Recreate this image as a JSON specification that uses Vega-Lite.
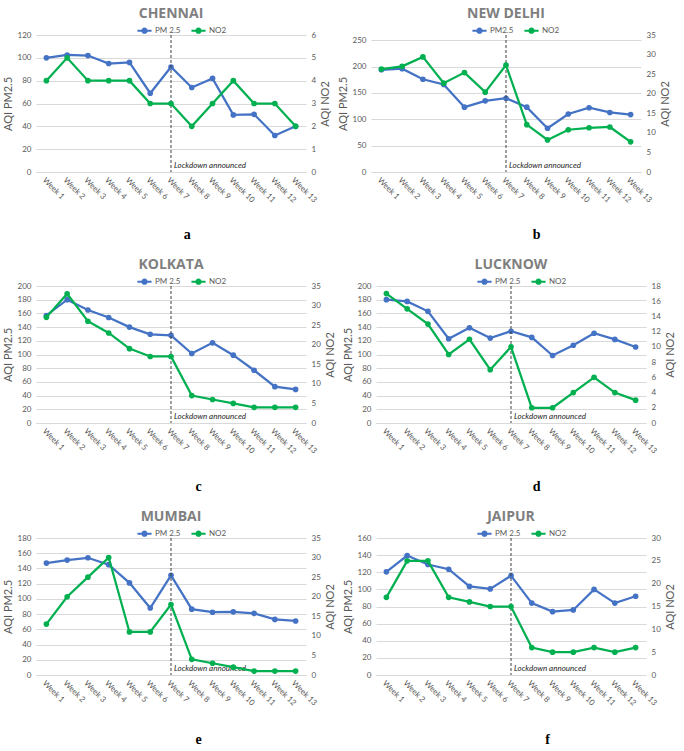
{
"$schema": "https://vega.github.io/schema/vega-lite/v6.json",
"padding": {"left": 2, "right": 2, "top": 7, "bottom": 0},
"background": "white",
"data": {"values": [
{"city":"Chennai","w":1,"pm":100,"no2":4},{"city":"Chennai","w":2,"pm":102.5,"no2":5},{"city":"Chennai","w":3,"pm":102,"no2":4},{"city":"Chennai","w":4,"pm":95,"no2":4},{"city":"Chennai","w":5,"pm":96,"no2":4},{"city":"Chennai","w":6,"pm":69,"no2":3},{"city":"Chennai","w":7,"pm":92,"no2":3},{"city":"Chennai","w":8,"pm":74,"no2":2},{"city":"Chennai","w":9,"pm":82,"no2":3},{"city":"Chennai","w":10,"pm":50,"no2":4},{"city":"Chennai","w":11,"pm":50.5,"no2":3},{"city":"Chennai","w":12,"pm":32,"no2":3},{"city":"Chennai","w":13,"pm":40,"no2":2},
{"city":"New Delhi","w":1,"pm":194,"no2":26.3},{"city":"New Delhi","w":2,"pm":196,"no2":27},{"city":"New Delhi","w":3,"pm":176,"no2":29.4},{"city":"New Delhi","w":4,"pm":166,"no2":22.7},{"city":"New Delhi","w":5,"pm":123,"no2":25.4},{"city":"New Delhi","w":6,"pm":135,"no2":20.4},{"city":"New Delhi","w":7,"pm":140,"no2":27.3},{"city":"New Delhi","w":8,"pm":123,"no2":12.1},{"city":"New Delhi","w":9,"pm":83,"no2":8.2},{"city":"New Delhi","w":10,"pm":110,"no2":10.8},{"city":"New Delhi","w":11,"pm":122,"no2":11.3},{"city":"New Delhi","w":12,"pm":113,"no2":11.5},{"city":"New Delhi","w":13,"pm":109,"no2":7.7},
{"city":"Kolkata","w":1,"pm":157,"no2":27},{"city":"Kolkata","w":2,"pm":180,"no2":33},{"city":"Kolkata","w":3,"pm":165,"no2":26},{"city":"Kolkata","w":4,"pm":154,"no2":23},{"city":"Kolkata","w":5,"pm":140,"no2":19},{"city":"Kolkata","w":6,"pm":129.5,"no2":17},{"city":"Kolkata","w":7,"pm":128,"no2":17},{"city":"Kolkata","w":8,"pm":101.5,"no2":7},{"city":"Kolkata","w":9,"pm":117,"no2":6},{"city":"Kolkata","w":10,"pm":99,"no2":5},{"city":"Kolkata","w":11,"pm":77,"no2":4},{"city":"Kolkata","w":12,"pm":53,"no2":4},{"city":"Kolkata","w":13,"pm":49,"no2":4},
{"city":"Lucknow","w":1,"pm":180,"no2":17},{"city":"Lucknow","w":2,"pm":177.5,"no2":15},{"city":"Lucknow","w":3,"pm":163,"no2":13},{"city":"Lucknow","w":4,"pm":123,"no2":9},{"city":"Lucknow","w":5,"pm":139,"no2":11},{"city":"Lucknow","w":6,"pm":124,"no2":7},{"city":"Lucknow","w":7,"pm":134,"no2":10},{"city":"Lucknow","w":8,"pm":125,"no2":2},{"city":"Lucknow","w":9,"pm":98.5,"no2":2},{"city":"Lucknow","w":10,"pm":113.5,"no2":4},{"city":"Lucknow","w":11,"pm":131,"no2":6},{"city":"Lucknow","w":12,"pm":122,"no2":4},{"city":"Lucknow","w":13,"pm":111,"no2":3},
{"city":"Mumbai","w":1,"pm":147,"no2":13},{"city":"Mumbai","w":2,"pm":151,"no2":20},{"city":"Mumbai","w":3,"pm":154,"no2":25},{"city":"Mumbai","w":4,"pm":145,"no2":30},{"city":"Mumbai","w":5,"pm":121,"no2":11},{"city":"Mumbai","w":6,"pm":88,"no2":11},{"city":"Mumbai","w":7,"pm":131,"no2":18},{"city":"Mumbai","w":8,"pm":86.5,"no2":4},{"city":"Mumbai","w":9,"pm":82.5,"no2":3},{"city":"Mumbai","w":10,"pm":83,"no2":2},{"city":"Mumbai","w":11,"pm":81,"no2":1},{"city":"Mumbai","w":12,"pm":73,"no2":1},{"city":"Mumbai","w":13,"pm":71,"no2":1},
{"city":"Jaipur","w":1,"pm":120.5,"no2":17},{"city":"Jaipur","w":2,"pm":139.5,"no2":25},{"city":"Jaipur","w":3,"pm":129,"no2":25},{"city":"Jaipur","w":4,"pm":123.5,"no2":17},{"city":"Jaipur","w":5,"pm":103.5,"no2":16},{"city":"Jaipur","w":6,"pm":100.5,"no2":15},{"city":"Jaipur","w":7,"pm":116,"no2":15},{"city":"Jaipur","w":8,"pm":84,"no2":6},{"city":"Jaipur","w":9,"pm":74,"no2":5},{"city":"Jaipur","w":10,"pm":76,"no2":5},{"city":"Jaipur","w":11,"pm":100,"no2":6},{"city":"Jaipur","w":12,"pm":84,"no2":5},{"city":"Jaipur","w":13,"pm":92,"no2":6}
]},
"spacing": 15,
"resolve": {"scale": {"color": "independent"}, "legend": {"color": "independent"}},
"vconcat": [
{"hconcat": [
 {"title": {"text": "a", "orient": "bottom", "anchor": "middle", "font": "Liberation Serif", "fontSize": 14, "fontWeight": "bold", "color": "#000000", "offset": 24, "dx": 21},
  "resolve": {"scale": {"color": "independent"}, "legend": {"color": "independent"}},
  "vconcat": [{
   "title": {"text": "CHENNAI"},
   "width": 270, "height": 137,
   "resolve": {"scale": {"y": "independent"}},
   "layer": [
    {"layer": [
     {"transform": [{"filter": "datum.city === 'Chennai'"}],
      "mark": {"type": "line", "strokeWidth": 2.25, "point": {"filled": true, "size": 32}},
      "encoding": {
       "x": {"field": "w", "type": "ordinal", "title": null, "axis": {"labelExpr": "'Week ' + datum.label"}},
       "y": {"field": "pm", "type": "quantitative", "scale": {"domain": [0, 120]}, "axis": {"title": "AQI PM2.5", "grid": true, "labelOverlap": false, "values": [0,20,40,60,80,100,120]}},
       "color": {"datum": "PM 2.5", "scale": {"domain": ["PM 2.5", "NO2"], "range": ["#4472C4", "#00B050"]},
        "legend": {"title": null, "orient": "none", "legendX": 100, "legendY": -13, "direction": "horizontal", "symbolType": "M-1,0H1M0.3,0A0.3,0.3,0,1,1,-0.3,0A0.3,0.3,0,1,1,0.3,0", "symbolSize": 200, "symbolStrokeWidth": 2, "labelFontSize": 8, "labelColor": "#595959", "columnPadding": 6, "labelOffset": 2}}
      }},
     {"data": {"values": [{}]}, "mark": {"type": "rule", "strokeDash": [3, 2], "color": "#404040", "strokeWidth": 1}, "encoding": {"x": {"datum": 7, "type": "ordinal"}}},
     {"data": {"values": [{}]}, "mark": {"type": "text", "text": "Lockdown announced", "fontStyle": "italic", "fontSize": 8, "align": "left", "baseline": "bottom", "dx": 3, "dy": -2, "color": "#262626"}, "encoding": {"x": {"datum": 7, "type": "ordinal"}, "y": {"datum": 0, "type": "quantitative", "axis": {"title": "AQI PM2.5", "grid": true, "labelOverlap": false, "values": [0,20,40,60,80,100,120]}}}}
    ]},
    {"transform": [{"filter": "datum.city === 'Chennai'"}],
     "mark": {"type": "line", "strokeWidth": 2.25, "point": {"filled": true, "size": 32}},
     "encoding": {
      "x": {"field": "w", "type": "ordinal", "title": null, "axis": {"labelExpr": "'Week ' + datum.label"}},
      "y": {"field": "no2", "type": "quantitative", "scale": {"domain": [0, 6]}, "axis": {"orient": "right", "title": "AQI NO2", "titleAngle": 270, "titleBaseline": "top", "labelOverlap": false, "values": [0,1,2,3,4,5,6]}},
      "color": {"datum": "NO2"}
     }}
   ]
  }]
 },
 {"title": {"text": "b", "orient": "bottom", "anchor": "middle", "font": "Liberation Serif", "fontSize": 14, "fontWeight": "bold", "color": "#000000", "offset": 24, "dx": 33},
  "resolve": {"scale": {"color": "independent"}, "legend": {"color": "independent"}},
  "vconcat": [{
   "title": {"text": "NEW DELHI"},
   "width": 270, "height": 137,
   "resolve": {"scale": {"y": "independent"}},
   "layer": [
    {"layer": [
     {"transform": [{"filter": "datum.city === 'New Delhi'"}],
      "mark": {"type": "line", "strokeWidth": 2.25, "point": {"filled": true, "size": 32}},
      "encoding": {
       "x": {"field": "w", "type": "ordinal", "title": null, "axis": {"labelExpr": "'Week ' + datum.label"}},
       "y": {"field": "pm", "type": "quantitative", "scale": {"domain": [0, 250]}, "axis": {"title": "AQI PM2.5", "grid": true, "labelOverlap": false, "values": [0,50,100,150,200,250]}},
       "color": {"datum": "PM2.5", "scale": {"domain": ["PM2.5", "NO2"], "range": ["#4472C4", "#00B050"]},
        "legend": {"title": null, "orient": "none", "legendX": 100, "legendY": -13, "direction": "horizontal", "symbolType": "M-1,0H1M0.3,0A0.3,0.3,0,1,1,-0.3,0A0.3,0.3,0,1,1,0.3,0", "symbolSize": 200, "symbolStrokeWidth": 2, "labelFontSize": 8, "labelColor": "#595959", "columnPadding": 6, "labelOffset": 2}}
      }},
     {"data": {"values": [{}]}, "mark": {"type": "rule", "strokeDash": [3, 2], "color": "#404040", "strokeWidth": 1}, "encoding": {"x": {"datum": 7, "type": "ordinal"}}},
     {"data": {"values": [{}]}, "mark": {"type": "text", "text": "Lockdown announced", "fontStyle": "italic", "fontSize": 8, "align": "left", "baseline": "bottom", "dx": 3, "dy": -2, "color": "#262626"}, "encoding": {"x": {"datum": 7, "type": "ordinal"}, "y": {"datum": 0, "type": "quantitative", "axis": {"title": "AQI PM2.5", "grid": true, "labelOverlap": false, "values": [0,50,100,150,200,250]}}}}
    ]},
    {"transform": [{"filter": "datum.city === 'New Delhi'"}],
     "mark": {"type": "line", "strokeWidth": 2.25, "point": {"filled": true, "size": 32}},
     "encoding": {
      "x": {"field": "w", "type": "ordinal", "title": null, "axis": {"labelExpr": "'Week ' + datum.label"}},
      "y": {"field": "no2", "type": "quantitative", "scale": {"domain": [0, 35]}, "axis": {"orient": "right", "title": "AQI NO2", "titleAngle": 270, "titleBaseline": "top", "labelOverlap": false, "values": [0,5,10,15,20,25,30,35]}},
      "color": {"datum": "NO2"}
     }}
   ]
  }]
 }
], "spacing": 6, "resolve": {"scale": {"color": "independent"}, "legend": {"color": "independent"}}},
{"hconcat": [
 {"title": {"text": "c", "orient": "bottom", "anchor": "middle", "font": "Liberation Serif", "fontSize": 14, "fontWeight": "bold", "color": "#000000", "offset": 25, "dx": 30},
  "resolve": {"scale": {"color": "independent"}, "legend": {"color": "independent"}},
  "vconcat": [{
   "title": {"text": "KOLKATA"},
   "width": 270, "height": 137,
   "resolve": {"scale": {"y": "independent"}},
   "layer": [
    {"layer": [
     {"transform": [{"filter": "datum.city === 'Kolkata'"}],
      "mark": {"type": "line", "strokeWidth": 2.25, "point": {"filled": true, "size": 32}},
      "encoding": {
       "x": {"field": "w", "type": "ordinal", "title": null, "axis": {"labelExpr": "'Week ' + datum.label"}},
       "y": {"field": "pm", "type": "quantitative", "scale": {"domain": [0, 200]}, "axis": {"title": "AQI PM2.5", "grid": true, "labelOverlap": false, "values": [0,20,40,60,80,100,120,140,160,180,200]}},
       "color": {"datum": "PM 2.5", "scale": {"domain": ["PM 2.5", "NO2"], "range": ["#4472C4", "#00B050"]},
        "legend": {"title": null, "orient": "none", "legendX": 100, "legendY": -13, "direction": "horizontal", "symbolType": "M-1,0H1M0.3,0A0.3,0.3,0,1,1,-0.3,0A0.3,0.3,0,1,1,0.3,0", "symbolSize": 200, "symbolStrokeWidth": 2, "labelFontSize": 8, "labelColor": "#595959", "columnPadding": 6, "labelOffset": 2}}
      }},
     {"data": {"values": [{}]}, "mark": {"type": "rule", "strokeDash": [3, 2], "color": "#404040", "strokeWidth": 1}, "encoding": {"x": {"datum": 7, "type": "ordinal"}}},
     {"data": {"values": [{}]}, "mark": {"type": "text", "text": "Lockdown announced", "fontStyle": "italic", "fontSize": 8, "align": "left", "baseline": "bottom", "dx": 3, "dy": -2, "color": "#262626"}, "encoding": {"x": {"datum": 7, "type": "ordinal"}, "y": {"datum": 0, "type": "quantitative", "axis": {"title": "AQI PM2.5", "grid": true, "labelOverlap": false, "values": [0,20,40,60,80,100,120,140,160,180,200]}}}}
    ]},
    {"transform": [{"filter": "datum.city === 'Kolkata'"}],
     "mark": {"type": "line", "strokeWidth": 2.25, "point": {"filled": true, "size": 32}},
     "encoding": {
      "x": {"field": "w", "type": "ordinal", "title": null, "axis": {"labelExpr": "'Week ' + datum.label"}},
      "y": {"field": "no2", "type": "quantitative", "scale": {"domain": [0, 35]}, "axis": {"orient": "right", "title": "AQI NO2", "titleAngle": 270, "titleBaseline": "top", "labelOverlap": false, "values": [0,5,10,15,20,25,30,35]}},
      "color": {"datum": "NO2"}
     }}
   ]
  }]
 },
 {"title": {"text": "d", "orient": "bottom", "anchor": "middle", "font": "Liberation Serif", "fontSize": 14, "fontWeight": "bold", "color": "#000000", "offset": 25, "dx": 28},
  "resolve": {"scale": {"color": "independent"}, "legend": {"color": "independent"}},
  "vconcat": [{
   "title": {"text": "LUCKNOW"},
   "width": 270, "height": 137,
   "resolve": {"scale": {"y": "independent"}},
   "layer": [
    {"layer": [
     {"transform": [{"filter": "datum.city === 'Lucknow'"}],
      "mark": {"type": "line", "strokeWidth": 2.25, "point": {"filled": true, "size": 32}},
      "encoding": {
       "x": {"field": "w", "type": "ordinal", "title": null, "axis": {"labelExpr": "'Week ' + datum.label"}},
       "y": {"field": "pm", "type": "quantitative", "scale": {"domain": [0, 200]}, "axis": {"title": "AQI PM2.5", "grid": true, "labelOverlap": false, "values": [0,20,40,60,80,100,120,140,160,180,200]}},
       "color": {"datum": "PM 2.5", "scale": {"domain": ["PM 2.5", "NO2"], "range": ["#4472C4", "#00B050"]},
        "legend": {"title": null, "orient": "none", "legendX": 100, "legendY": -13, "direction": "horizontal", "symbolType": "M-1,0H1M0.3,0A0.3,0.3,0,1,1,-0.3,0A0.3,0.3,0,1,1,0.3,0", "symbolSize": 200, "symbolStrokeWidth": 2, "labelFontSize": 8, "labelColor": "#595959", "columnPadding": 6, "labelOffset": 2}}
      }},
     {"data": {"values": [{}]}, "mark": {"type": "rule", "strokeDash": [3, 2], "color": "#404040", "strokeWidth": 1}, "encoding": {"x": {"datum": 7, "type": "ordinal"}}},
     {"data": {"values": [{}]}, "mark": {"type": "text", "text": "Lockdown announced", "fontStyle": "italic", "fontSize": 8, "align": "left", "baseline": "bottom", "dx": 3, "dy": -2, "color": "#262626"}, "encoding": {"x": {"datum": 7, "type": "ordinal"}, "y": {"datum": 0, "type": "quantitative", "axis": {"title": "AQI PM2.5", "grid": true, "labelOverlap": false, "values": [0,20,40,60,80,100,120,140,160,180,200]}}}}
    ]},
    {"transform": [{"filter": "datum.city === 'Lucknow'"}],
     "mark": {"type": "line", "strokeWidth": 2.25, "point": {"filled": true, "size": 32}},
     "encoding": {
      "x": {"field": "w", "type": "ordinal", "title": null, "axis": {"labelExpr": "'Week ' + datum.label"}},
      "y": {"field": "no2", "type": "quantitative", "scale": {"domain": [0, 18]}, "axis": {"orient": "right", "title": "AQI NO2", "titleAngle": 270, "titleBaseline": "top", "labelOverlap": false, "values": [0,2,4,6,8,10,12,14,16,18]}},
      "color": {"datum": "NO2"}
     }}
   ]
  }]
 }
], "spacing": 6, "resolve": {"scale": {"color": "independent"}, "legend": {"color": "independent"}}},
{"hconcat": [
 {"title": {"text": "e", "orient": "bottom", "anchor": "middle", "font": "Liberation Serif", "fontSize": 14, "fontWeight": "bold", "color": "#000000", "offset": 26, "dx": 30},
  "resolve": {"scale": {"color": "independent"}, "legend": {"color": "independent"}},
  "vconcat": [{
   "title": {"text": "MUMBAI"},
   "width": 270, "height": 137,
   "resolve": {"scale": {"y": "independent"}},
   "layer": [
    {"layer": [
     {"transform": [{"filter": "datum.city === 'Mumbai'"}],
      "mark": {"type": "line", "strokeWidth": 2.25, "point": {"filled": true, "size": 32}},
      "encoding": {
       "x": {"field": "w", "type": "ordinal", "title": null, "axis": {"labelExpr": "'Week ' + datum.label"}},
       "y": {"field": "pm", "type": "quantitative", "scale": {"domain": [0, 180]}, "axis": {"title": "AQI PM2.5", "grid": true, "labelOverlap": false, "values": [0,20,40,60,80,100,120,140,160,180]}},
       "color": {"datum": "PM 2.5", "scale": {"domain": ["PM 2.5", "NO2"], "range": ["#4472C4", "#00B050"]},
        "legend": {"title": null, "orient": "none", "legendX": 100, "legendY": -13, "direction": "horizontal", "symbolType": "M-1,0H1M0.3,0A0.3,0.3,0,1,1,-0.3,0A0.3,0.3,0,1,1,0.3,0", "symbolSize": 200, "symbolStrokeWidth": 2, "labelFontSize": 8, "labelColor": "#595959", "columnPadding": 6, "labelOffset": 2}}
      }},
     {"data": {"values": [{}]}, "mark": {"type": "rule", "strokeDash": [3, 2], "color": "#404040", "strokeWidth": 1}, "encoding": {"x": {"datum": 7, "type": "ordinal"}}},
     {"data": {"values": [{}]}, "mark": {"type": "text", "text": "Lockdown announced", "fontStyle": "italic", "fontSize": 8, "align": "left", "baseline": "bottom", "dx": 3, "dy": -2, "color": "#262626"}, "encoding": {"x": {"datum": 7, "type": "ordinal"}, "y": {"datum": 0, "type": "quantitative", "axis": {"title": "AQI PM2.5", "grid": true, "labelOverlap": false, "values": [0,20,40,60,80,100,120,140,160,180]}}}}
    ]},
    {"transform": [{"filter": "datum.city === 'Mumbai'"}],
     "mark": {"type": "line", "strokeWidth": 2.25, "point": {"filled": true, "size": 32}},
     "encoding": {
      "x": {"field": "w", "type": "ordinal", "title": null, "axis": {"labelExpr": "'Week ' + datum.label"}},
      "y": {"field": "no2", "type": "quantitative", "scale": {"domain": [0, 35]}, "axis": {"orient": "right", "title": "AQI NO2", "titleAngle": 270, "titleBaseline": "top", "labelOverlap": false, "values": [0,5,10,15,20,25,30,35]}},
      "color": {"datum": "NO2"}
     }}
   ]
  }]
 },
 {"title": {"text": "f", "orient": "bottom", "anchor": "middle", "font": "Liberation Serif", "fontSize": 14, "fontWeight": "bold", "color": "#000000", "offset": 26, "dx": 39},
  "resolve": {"scale": {"color": "independent"}, "legend": {"color": "independent"}},
  "vconcat": [{
   "title": {"text": "JAIPUR"},
   "width": 270, "height": 137,
   "resolve": {"scale": {"y": "independent"}},
   "layer": [
    {"layer": [
     {"transform": [{"filter": "datum.city === 'Jaipur'"}],
      "mark": {"type": "line", "strokeWidth": 2.25, "point": {"filled": true, "size": 32}},
      "encoding": {
       "x": {"field": "w", "type": "ordinal", "title": null, "axis": {"labelExpr": "'Week ' + datum.label"}},
       "y": {"field": "pm", "type": "quantitative", "scale": {"domain": [0, 160]}, "axis": {"title": "AQI PM2.5", "grid": true, "labelOverlap": false, "values": [0,20,40,60,80,100,120,140,160]}},
       "color": {"datum": "PM 2.5", "scale": {"domain": ["PM 2.5", "NO2"], "range": ["#4472C4", "#00B050"]},
        "legend": {"title": null, "orient": "none", "legendX": 100, "legendY": -13, "direction": "horizontal", "symbolType": "M-1,0H1M0.3,0A0.3,0.3,0,1,1,-0.3,0A0.3,0.3,0,1,1,0.3,0", "symbolSize": 200, "symbolStrokeWidth": 2, "labelFontSize": 8, "labelColor": "#595959", "columnPadding": 6, "labelOffset": 2}}
      }},
     {"data": {"values": [{}]}, "mark": {"type": "rule", "strokeDash": [3, 2], "color": "#404040", "strokeWidth": 1}, "encoding": {"x": {"datum": 7, "type": "ordinal"}}},
     {"data": {"values": [{}]}, "mark": {"type": "text", "text": "Lockdown announced", "fontStyle": "italic", "fontSize": 8, "align": "left", "baseline": "bottom", "dx": 3, "dy": -2, "color": "#262626"}, "encoding": {"x": {"datum": 7, "type": "ordinal"}, "y": {"datum": 0, "type": "quantitative", "axis": {"title": "AQI PM2.5", "grid": true, "labelOverlap": false, "values": [0,20,40,60,80,100,120,140,160]}}}}
    ]},
    {"transform": [{"filter": "datum.city === 'Jaipur'"}],
     "mark": {"type": "line", "strokeWidth": 2.25, "point": {"filled": true, "size": 32}},
     "encoding": {
      "x": {"field": "w", "type": "ordinal", "title": null, "axis": {"labelExpr": "'Week ' + datum.label"}},
      "y": {"field": "no2", "type": "quantitative", "scale": {"domain": [0, 30]}, "axis": {"orient": "right", "title": "AQI NO2", "titleAngle": 270, "titleBaseline": "top", "labelOverlap": false, "values": [0,5,10,15,20,25,30]}},
      "color": {"datum": "NO2"}
     }}
   ]
  }]
 }
], "spacing": 6, "resolve": {"scale": {"color": "independent"}, "legend": {"color": "independent"}}}
],
"config": {
 "font": "Lato",
 "view": {"stroke": null},
 "axis": {"labelFontSize": 8, "labelColor": "#595959", "titleFontSize": 11, "titleColor": "#595959", "titleFontWeight": "normal", "ticks": false, "domain": false, "gridColor": "#d9d9d9", "labelPadding": 5},
 "axisX": {"grid": false, "domain": true, "domainColor": "#d9d9d9", "labelAngle": 45, "labelPadding": 4},
 "axisLeft": {"grid": true},
 "axisRight": {"grid": false},
 "title": {"font": "Open Sans", "fontSize": 14, "fontWeight": "bold", "color": "#7f7f7f", "offset": 1}
}
}
